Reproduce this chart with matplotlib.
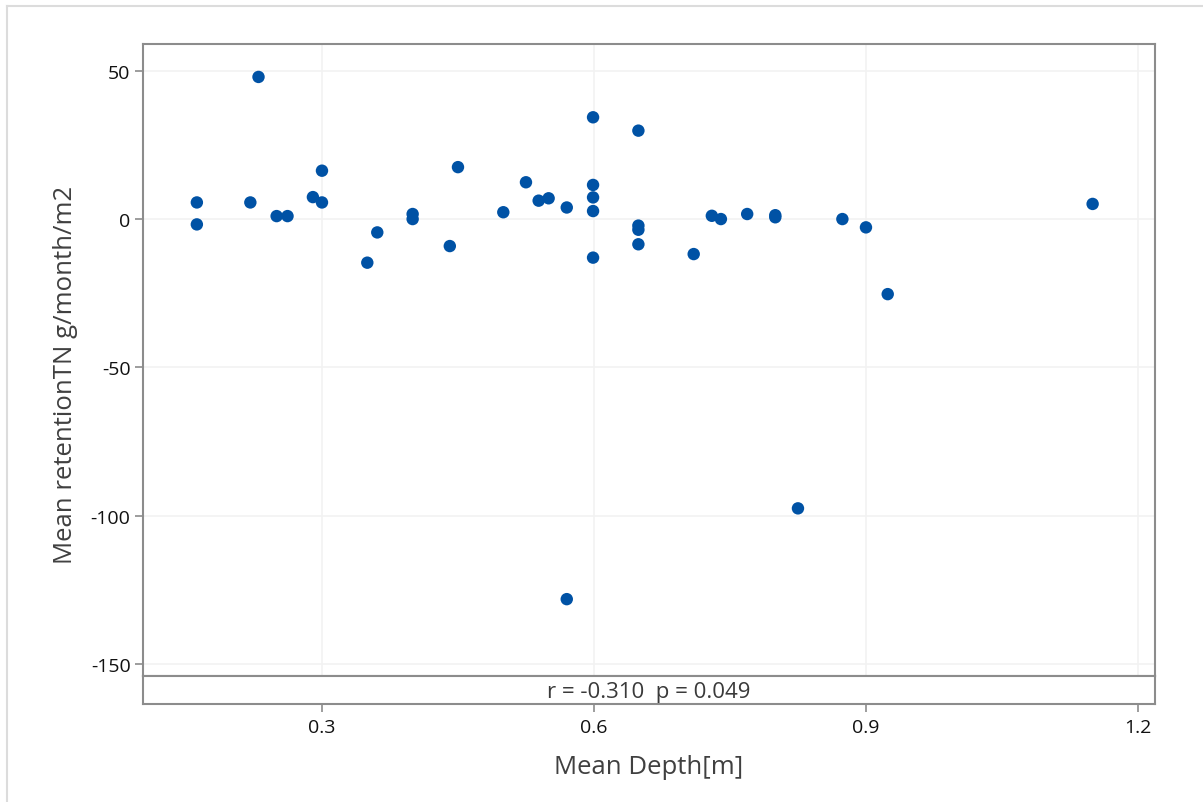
import numpy as np
import matplotlib.pyplot as plt
from matplotlib.lines import Line2D

plt.rcParams['font.family'] = ['Open Sans', 'DejaVu Sans']
plt.rcParams['axes.unicode_minus'] = False

# Data
depth = [0.162, 0.162, 0.230, 0.221, 0.250, 0.262, 0.290, 0.300, 0.300,
         0.350, 0.361, 0.400, 0.400, 0.441, 0.450, 0.500, 0.525, 0.539,
         0.550, 0.570, 0.599, 0.599, 0.599, 0.599, 0.599, 0.649, 0.649,
         0.649, 0.649, 0.710, 0.730, 0.740, 0.769, 0.800, 0.800, 0.874,
         0.900, 0.924, 1.150, 0.825, 0.570]
retention = [5.6, -1.8, 47.9, 5.6, 1.0, 1.0, 7.4, 5.6, 16.3,
             -14.7, -4.5, 1.7, 0.0, -9.1, 17.5, 2.3, 12.4, 6.2,
             7.0, 3.9, 34.3, 11.5, 7.3, 2.7, -13.0, 29.8, -2.2,
             -3.6, -8.5, -11.8, 1.1, 0.0, 1.7, 1.3, 0.6, 0.0,
             -2.8, -25.3, 5.1, -97.5, -128.1]
xticks = [0.3, 0.6, 0.9, 1.2]
yticks = [50, 0, -50, -100, -150]
stats_text = "r = -0.310  p = 0.049"

W, H = 1203, 803
fig = plt.figure(figsize=(W / 100, H / 100), dpi=100)

L, R, T, SEP, B = 143, 1155, 45, 677, 705
ax = fig.add_axes([L / W, 1 - SEP / H, (R - L) / W, (SEP - T) / H])
axf = fig.add_axes([L / W, 1 - B / H, (R - L) / W, (B - SEP) / H], sharex=ax)

spine_col = '#8c8c8c'
ax.scatter(depth, retention, s=80, color='#0052a5', edgecolors='none', zorder=3)
ax.set_xlim(0.1026, 1.2188)
ax.set_ylim(-154.0, 59.0)
ax.set_xticks(xticks)
ax.set_yticks(yticks)
ax.grid(True, color='#f2f2f2', linewidth=1.2)
ax.set_axisbelow(True)
ax.tick_params(axis='x', bottom=False, labelbottom=False)
ax.tick_params(axis='y', length=6, width=1.2, color=spine_col,
               labelsize=14, labelcolor='#111111', pad=3)
for sp in ax.spines.values():
    sp.set_color(spine_col)
    sp.set_linewidth(1.5)

axf.set_ylim(0, 1)
axf.set_yticks([])
axf.tick_params(axis='x', length=6, width=1.2, color=spine_col,
                labelsize=14, labelcolor='#111111', pad=4)
for sp in axf.spines.values():
    sp.set_color(spine_col)
    sp.set_linewidth(1.5)
axf.text(0.5, 0.45, stats_text, transform=axf.transAxes, ha='center',
         va='center', fontsize=16, color='#3a3a3a')

fig.text((L + R) / 2 / W, 1 - 768 / H, 'Mean Depth[m]', ha='center',
         va='center', fontsize=18.5, color='#404040')
fig.text(66 / W, 1 - 375 / H, 'Mean retentionTN g/month/m2', ha='center',
         va='center', rotation=90, fontsize=18.5, color='#404040')

# light window border
fig.add_artist(Line2D([7 / W, 7 / W], [0, 1 - 7 / H], transform=fig.transFigure,
                      color='#dcdcdc', linewidth=1.5))
fig.add_artist(Line2D([7 / W, 1], [1 - 7 / H, 1 - 7 / H], transform=fig.transFigure,
                      color='#dcdcdc', linewidth=1.5))

fig.savefig('out.png', dpi=100)
